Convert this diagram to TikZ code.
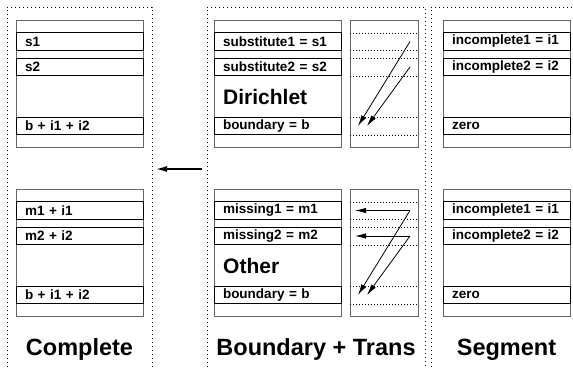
\documentclass[tikz,border=0pt]{standalone}
\usepackage{fontspec}
\setsansfont{Liberation Sans}
\usepackage{tikz}
\usetikzlibrary{positioning, calc, arrows.meta}
\tikzstyle{Arrow} = [
%Thin pointer with a filled tip:
line width = 0.8pt,
-{Latex[length = 11pt, width = 5.5pt]}
]
\tikzstyle{BigArrow} = [
line width = 1.4pt,
-{Latex[length = 11pt, width = 6pt]}
]

\begin{document}
\begin{tikzpicture}[x = 1pt, y = -1pt,
			frame/.style = {line width = 1pt, dash pattern = on 1pt off 3pt},
			block/.style = {rectangle, draw = black!60, line width = 0.9pt, minimum width = 127pt, minimum height = 127pt, inner sep = 0pt},
			lane/.style = {rectangle, draw = black!60, line width = 0.9pt, minimum width = 68pt, minimum height = 127pt, inner sep = 0pt},
			slot/.style = {rectangle, draw, line width = 0.9pt, minimum height = 17.5pt, text width = 109pt, inner xsep = 9pt, inner ysep = 0pt, align = left, font = \sffamily\bfseries\fontsize{13.5}{15}\selectfont},
			kind/.style = {anchor = base west, inner sep = 0pt, font = \sffamily\bfseries\fontsize{21}{24}\selectfont},
			title/.style = {anchor = base, inner sep = 0pt, font = \sffamily\bfseries\fontsize{23.5}{27}\selectfont},
			guide/.style = {line width = 0.9pt, dash pattern = on 1pt off 2pt},
		]
		\useasboundingbox (0,0) rectangle (573,367);

		% dotted frames
		\draw[frame] (7,367) -- (7,7) -- (152,7) -- (152,367);
		\draw[frame] (207,367) -- (207,7) -- (425,7) -- (425,367);
		\draw[frame] (431,367) -- (431,7) -- (573,7);

		\node[block](CT) at (79.5,83.5){};
		\node[block](CB) at (79.5,252.5){};
		\node[block](BT) at (277.5,83.5){};
		\node[block](BB) at (277.5,252.5){};
		\node[lane](LT) at (384,83.5){};
		\node[lane](LB) at (384,252.5){};
		\node[block](ST) at (506.5,83.5){};
		\node[block](SB) at (506.5,252.5){};

		\foreach \y in {33, 50, 58, 76, 117, 135}{
			\draw[guide] (350,\y) -- (418,\y);
			\draw[guide] (350,\y+169) -- (418,\y+169);
		}

		\node[slot](CT1) at (79.5,41.5){s1};
		\node[slot](CT2) at (79.5,67){s2};
		\node[slot](CT3) at (79.5,126){b + i1 + i2};
		\node[slot](CB1) at (79.5,210.5){m1 + i1};
		\node[slot](CB2) at (79.5,236){m2 + i2};
		\node[slot](CB3) at (79.5,295){b + i1 + i2};

		\node[slot](BT1) at (277.5,41.5){substitute1 = s1};
		\node[slot](BT2) at (277.5,67){substitute2 = s2};
		\node[slot](BT3) at (277.5,126){boundary = b};
		\node[slot](BB1) at (277.5,210.5){missing1 = m1};
		\node[slot](BB2) at (277.5,236){missing2 = m2};
		\node[slot](BB3) at (277.5,295){boundary = b};

		\node[slot](ST1) at (506.5,41.5){incomplete1 = i1};
		\node[slot](ST2) at (506.5,67){incomplete2 = i2};
		\node[slot](ST3) at (506.5,126){zero};
		\node[slot](SB1) at (506.5,210.5){incomplete1 = i1};
		\node[slot](SB2) at (506.5,236){incomplete2 = i2};
		\node[slot](SB3) at (506.5,295){zero};

		\node[kind](dirichlet) at (223,104){Dirichlet};
		\node[kind](other) at (223,273.5){Other};

		\node[title](complete) at (79.5,355){Complete};
		\node[title](trans) at (316,355){Boundary + Trans};
		\node[title](segment) at (506.5,355){Segment};

		% pointers inside the lanes
		\coordinate(T1) at (410,41.5);
		\coordinate(T2) at (410,67);
		\coordinate(TE1) at (358,126);
		\coordinate(TE2) at (367,126);
		\coordinate(B1) at (410,210.5);
		\coordinate(B2) at (410,236);
		\coordinate(BH1) at (355,210.5);
		\coordinate(BH2) at (355,236);
		\coordinate(BE1) at (358,295);
		\coordinate(BE2) at (367,295);
		\coordinate(from) at (202,169);
		\coordinate(to) at (156,169);

		\draw[Arrow](T1)--(TE1);
		\draw[Arrow](T2)--(TE2);
		\draw[Arrow](B1)--(BH1);
		\draw[Arrow](B2)--(BH2);
		\draw[Arrow](B1)--(BE1);
		\draw[Arrow](B2)--(BE2);
		\draw[BigArrow](from)--(to);

	\end{tikzpicture}
\end{document}
